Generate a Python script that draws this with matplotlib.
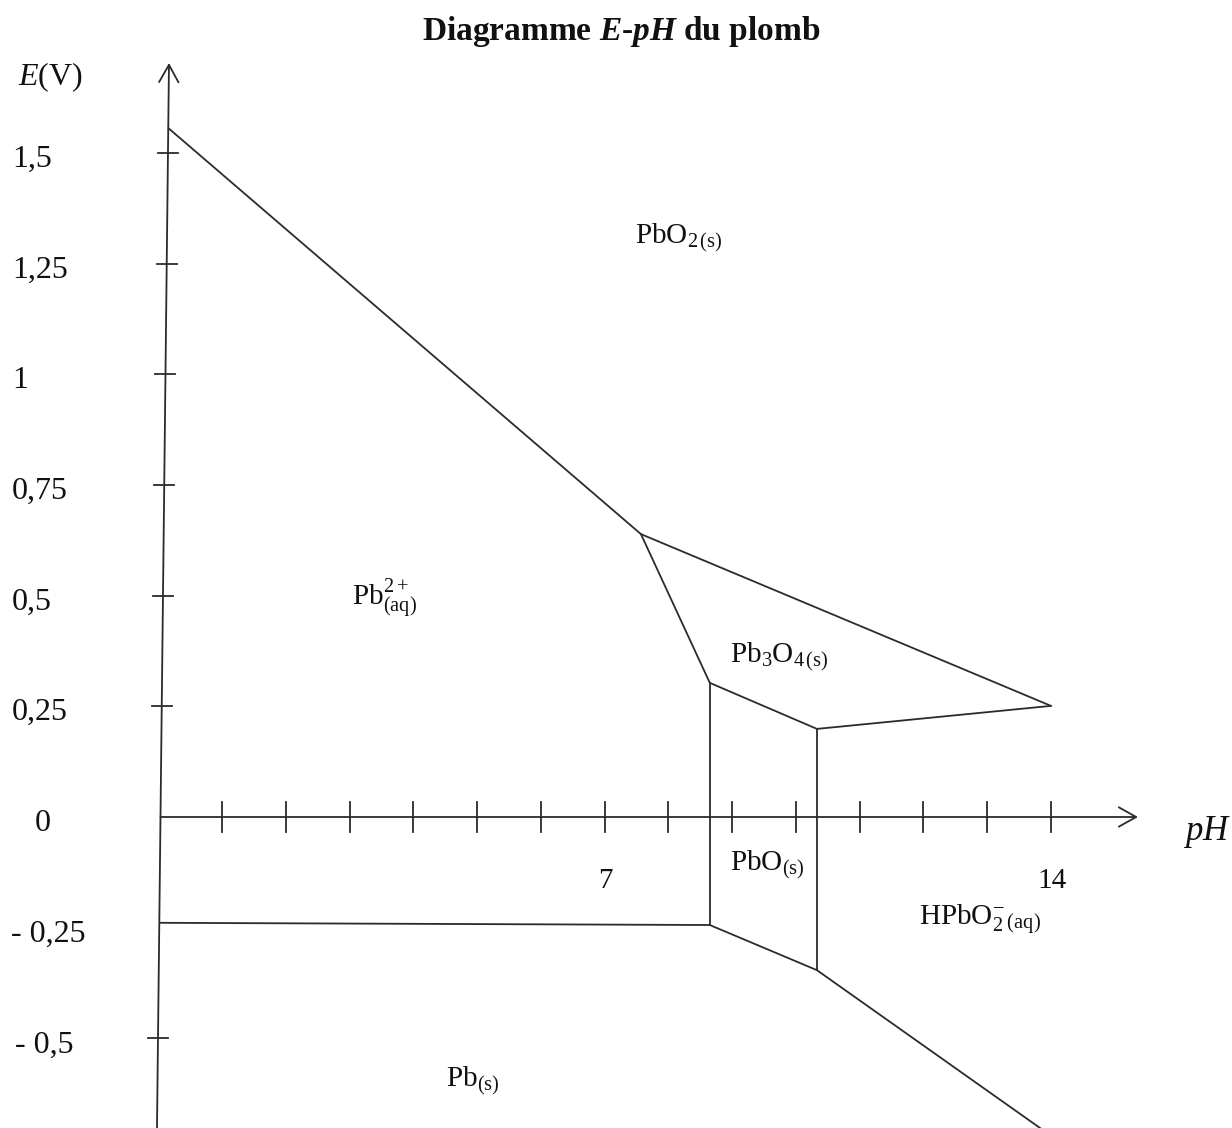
import matplotlib
matplotlib.use("Agg")
import matplotlib.pyplot as plt
from matplotlib.patches import FancyArrowPatch
from matplotlib.transforms import blended_transform_factory

plt.rcParams.update({
    "font.family": ["Liberation Serif", "DejaVu Serif"],
    "mathtext.fontset": "custom",
    "mathtext.rm": "Liberation Serif",
    "mathtext.it": "Liberation Serif:italic",
    "mathtext.bf": "Liberation Serif:bold",
    "mathtext.bfit": "Liberation Serif:italic:bold",
})

# ---------------- data ----------------
e_tick_values = [1.5, 1.25, 1.0, 0.75, 0.5, 0.25, 0.0, -0.25, -0.5]
e_tick_labels = ["1,5", "1,25", "1", "0,75", "0,5", "0,25", "0", "- 0,25", "- 0,5"]
e_tick_marks = [1.5, 1.25, 1.0, 0.75, 0.5, 0.25, -0.5]
ph_ticks = list(range(1, 15))
ph_tick_labels = {7: "7", 14: "14"}

# boundary segments (pH list, E list)
bound_pb2_pbo2 = ([0.16, 7.57], [1.556, 0.639])
bound_pbo2_pb3o4 = ([7.57, 14.0], [0.639, 0.251])
bound_pb2_pb3o4 = ([7.57, 8.65], [0.639, 0.303])
bound_pbo_pb3o4 = ([8.65, 10.33], [0.303, 0.199])
bound_hpbo2_pb3o4 = ([10.33, 14.0], [0.199, 0.251])
bound_pb2_pbo = ([8.65, 8.65], [0.303, -0.244])
bound_pbo_hpbo2 = ([10.33, 10.33], [0.199, -0.346])
bound_pb_pb2 = ([0.03, 8.65], [-0.239, -0.244])
bound_pb_pbo = ([8.65, 10.33], [-0.244, -0.346])
bound_pb_hpbo2 = ([10.33, 14.0], [-0.346, -0.72])

boundaries = [bound_pb2_pbo2, bound_pbo2_pb3o4, bound_pb2_pb3o4, bound_pbo_pb3o4,
              bound_hpbo2_pb3o4, bound_pb2_pbo, bound_pbo_hpbo2, bound_pb_pb2,
              bound_pb_pbo, bound_pb_hpbo2]

species_labels = [r"$\mathrm{PbO_{2\,(s)}}$", r"$\mathrm{Pb^{2+}_{(aq)}}$",
                  r"$\mathrm{Pb_3O_{4\,(s)}}$", r"$\mathrm{PbO_{(s)}}$",
                  r"$\mathrm{HPbO_2^{-}{}_{\,(aq)}}$", r"$\mathrm{Pb_{(s)}}$"]
species_ph = [7.48, 3.04, 8.97, 8.97, 11.93, 4.51]
species_e = [1.297, 0.479, 0.350, -0.120, -0.244, -0.608]

# ---------------- layout ----------------
W, H = 1232, 1128
PX0, PXU = 158.2, 63.77     # pixel x of pH 0, pixels per pH unit
PY0, PYU = 817.0, 442.7     # pixel y of E 0, pixels per volt
color = "#2b2b2b"
lw = 1.3

fig = plt.figure(figsize=(W / 100, H / 100), dpi=100)
ax = fig.add_axes([0, 0, 1, 1])
ax.set_xlim(-PX0 / PXU, (W - PX0) / PXU)
ax.set_ylim((PY0 - H) / PYU, PY0 / PYU)
ax.axis("off")

def axis_ph(E):
    # the hand-drawn E axis is slightly tilted
    return -0.019 + 0.0782 * (E + 0.7025)

# E axis with arrow
e_top, e_bot = (63 - PY0) / -PYU, -0.75
ax.add_patch(FancyArrowPatch((axis_ph(e_bot), e_bot), (axis_ph(e_top), e_top),
                             arrowstyle="->,head_length=1.25,head_width=0.7",
                             mutation_scale=10, color=color, lw=lw,
                             shrinkA=0, shrinkB=0))
# pH axis with arrow
ph_tip = (1138 - PX0) / PXU
ax.add_patch(FancyArrowPatch((axis_ph(0), 0), (ph_tip, 0),
                             arrowstyle="->,head_length=1.25,head_width=0.7",
                             mutation_scale=10, color=color, lw=lw,
                             shrinkA=0, shrinkB=0))

# ticks
htick = 10 / PXU
vtick = 15 / PYU
for e in e_tick_marks:
    xa = axis_ph(e)
    ax.plot([xa - htick, xa + htick], [e, e], color=color, lw=lw)
for p in ph_ticks:
    ax.plot([p, p], [-vtick, vtick], color=color, lw=lw)

# boundaries
for phs, es in boundaries:
    ax.plot(phs, es, color=color, lw=lw, solid_capstyle="round")

# E tick labels
tr = blended_transform_factory(ax.transAxes, ax.transData)
label_left_px = [12, 12, 12, 12, 12, 12, 35, 11, 15]
for e, lab, xl in zip(e_tick_values, e_tick_labels, label_left_px):
    ax.text(xl / W, e - 14 / PYU, lab, transform=tr, ha="left", va="baseline",
            fontsize=23, color="#111111")

# pH tick labels
for p, lab in ph_tick_labels.items():
    ax.text(p + 0.02, -71 / PYU, lab, ha="center", va="baseline", fontsize=21,
            color="#111111")

# species labels
for lab, p, e in zip(species_labels, species_ph, species_e):
    ax.text(p, e, lab, ha="left", va="baseline", fontsize=21, color="#111111")

# axis titles and main title
fig.text(18 / W, 1 - 85 / H, r"$E$(V)", ha="left", va="baseline", fontsize=23,
         color="#111111")
fig.text(1183 / W, 1 - 840 / H, r"$pH$", ha="left", va="baseline", fontsize=25,
         color="#111111")
fig.text(621 / W, 1 - 40 / H, r"Diagramme $\mathbfit{E}$-$\mathbfit{pH}$ du plomb",
         ha="center", va="baseline", fontsize=24, fontweight="bold", color="#111111")

fig.savefig("out.png", dpi=100)
